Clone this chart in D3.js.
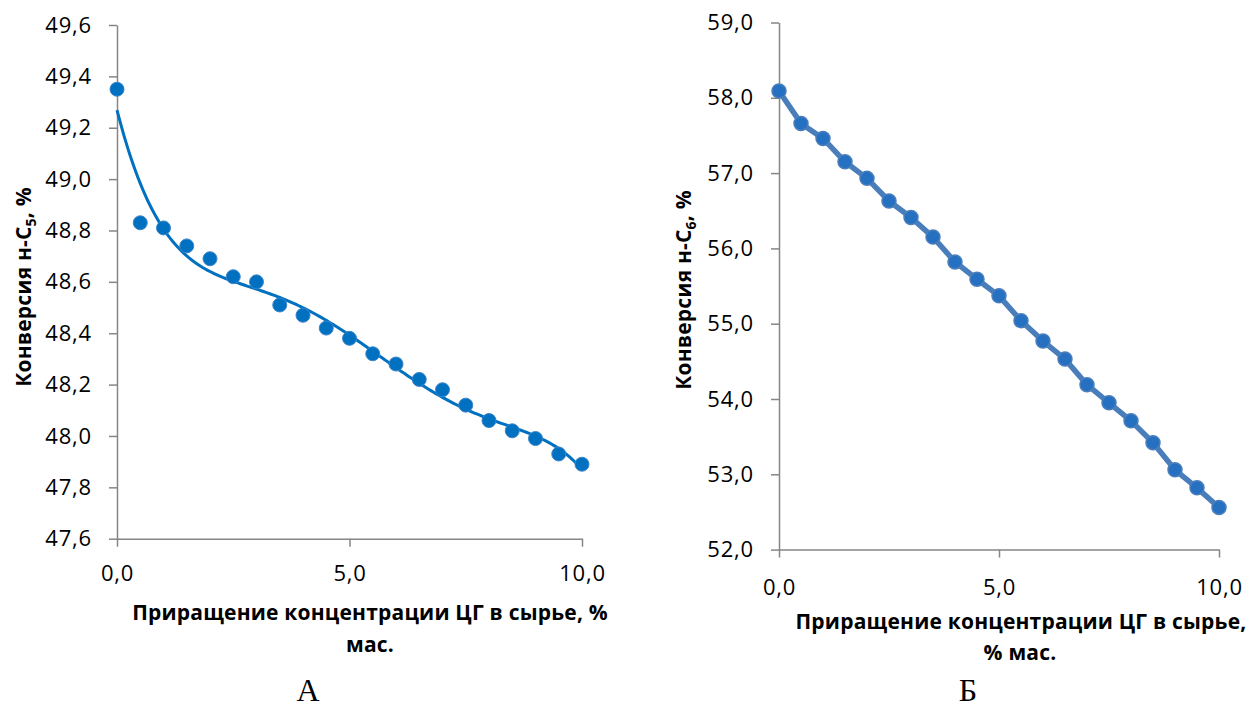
<!DOCTYPE html>
<html>
<head>
<meta charset="utf-8">
<script src="https://cdn.jsdelivr.net/npm/d3@7"></script>
<style>
  body { margin: 0; background: #fff; }
  .tick text { font-family: "Open Sans", sans-serif; font-size: 22px; fill: #000; letter-spacing: 0.8px; }
  .axis path, .axis line { stroke: #868686; stroke-width: 1.5px; }
  .lab { font-family: "Open Sans", sans-serif; font-weight: bold; font-size: 21px; fill: #000; letter-spacing: 0.2px; }
  .cap { font-family: "Liberation Serif", "Times New Roman", serif; font-size: 32px; fill: #000; }
</style>
</head>
<body>
<svg width="1255" height="709"></svg>
<script>
// shared x values: increment of CG concentration, % mass
const xVals = [0, 0.5, 1, 1.5, 2, 2.5, 3, 3.5, 4, 4.5, 5, 5.5, 6, 6.5, 7, 7.5, 8, 8.5, 9, 9.5, 10];
// chart A: conversion n-C5, %
const convC5 = [49.35, 48.83, 48.81, 48.74, 48.69, 48.62, 48.60, 48.51, 48.47, 48.42, 48.38,
                48.32, 48.28, 48.22, 48.18, 48.12, 48.06, 48.02, 47.99, 47.93, 47.89];
// chart B: conversion n-C6, %
const convC6 = [58.09, 57.66, 57.46, 57.15, 56.93, 56.63, 56.41, 56.15, 55.82, 55.59, 55.37,
                55.04, 54.77, 54.53, 54.19, 53.95, 53.71, 53.42, 53.06, 52.82, 52.56];
const xTicks = [0, 5, 10];
const yTicksA = [47.6, 47.8, 48.0, 48.2, 48.4, 48.6, 48.8, 49.0, 49.2, 49.4, 49.6];
const yTicksB = [52, 53, 54, 55, 56, 57, 58, 59];

var svg = d3.select("svg");
var fmt = function(d) { return d3.format(".1f")(d).replace(".", ","); };

// least squares polynomial trendline (like excel's)
function polyfit(xs, ys, deg) {
    var n = deg + 1, A = [], b = [];
    for (var i = 0; i < n; i++) {
        A.push(new Array(n).fill(0)); b.push(0);
    }
    xs.forEach(function(x, k) {
        var t = x / 10;
        for (var i = 0; i < n; i++) {
            for (var j = 0; j < n; j++) A[i][j] += Math.pow(t, i + j);
            b[i] += ys[k] * Math.pow(t, i);
        }
    });
    for (var c = 0; c < n; c++) {
        var p = c;
        for (var r = c + 1; r < n; r++) if (Math.abs(A[r][c]) > Math.abs(A[p][c])) p = r;
        var tmp = A[c]; A[c] = A[p]; A[p] = tmp;
        var tb = b[c]; b[c] = b[p]; b[p] = tb;
        for (var r = c + 1; r < n; r++) {
            var f = A[r][c] / A[c][c];
            for (var j = c; j < n; j++) A[r][j] -= f * A[c][j];
            b[r] -= f * b[c];
        }
    }
    var coef = new Array(n).fill(0);
    for (var i = n - 1; i >= 0; i--) {
        var s = b[i];
        for (var j = i + 1; j < n; j++) s -= A[i][j] * coef[j];
        coef[i] = s / A[i][i];
    }
    return function(x) {
        var t = x / 10, s = 0;
        for (var i = 0; i < n; i++) s += coef[i] * Math.pow(t, i);
        return s;
    };
}

function drawAxes(g, x, y, yTicks, xPad) {
    g.append("g").attr("class", "axis")
        .attr("transform", "translate(0," + y.range()[0] + ")")
        .call(d3.axisBottom(x).tickValues(xTicks).tickSize(8).tickSizeOuter(0).tickPadding(xPad).tickFormat(fmt));
    g.append("g").attr("class", "axis")
        .attr("transform", "translate(" + x.range()[0] + ",0)")
        .call(d3.axisLeft(y).tickValues(yTicks).tickSize(8).tickSizeOuter(0).tickPadding(17).tickFormat(fmt));
    g.selectAll(".domain").attr("stroke", "#868686");
}

function yLabel(g, x, y, sub) {
    var t = g.append("text").attr("class", "lab")
        .attr("transform", "translate(" + x + "," + y + ") rotate(-90)")
        .attr("text-anchor", "middle");
    t.append("tspan").text("Конверсия н-С");
    t.append("tspan").text(sub).attr("font-size", "14px").attr("dy", 5);
    t.append("tspan").text(", %").attr("dy", -5);
}

// ---- chart A ----
var gA = svg.append("g");
var xA = d3.scaleLinear().domain([0, 10]).range([117, 582]);
var yA = d3.scaleLinear().domain([47.6, 49.6]).range([538.7, 25]);
drawAxes(gA, xA, yA, yTicksA, 19);

// excel-style 5th order polynomial trendline
var trend = polyfit(xVals, convC5, 5);
var trendPts = d3.range(0, 10.001, 0.05);
gA.append("path")
    .datum(trendPts)
    .attr("fill", "none")
    .attr("stroke", "#0070c0")
    .attr("stroke-width", 3)
    .attr("d", d3.line().x(function(d) { return xA(d); }).y(function(d) { return yA(trend(d)); }));

gA.selectAll("circle")
    .data(xVals)
    .enter().append("circle")
      .attr("cx", function(d) { return xA(d); })
      .attr("cy", function(d, i) { return yA(convC5[i]); })
      .attr("r", 7)
      .attr("fill", "#0070c0")
      .attr("stroke", "#3d85c8")
      .attr("stroke-width", 1);

gA.append("text").attr("class", "lab").attr("x", 370).attr("y", 620).attr("text-anchor", "middle")
    .text("Приращение концентрации ЦГ в сырье, %");
gA.append("text").attr("class", "lab").attr("x", 370).attr("y", 652).attr("text-anchor", "middle")
    .text("мас.");
yLabel(gA, 31, 287, "5");
gA.append("text").attr("class", "cap").attr("x", 308).attr("y", 701).attr("text-anchor", "middle").text("А");

// ---- chart B ----
var gB = svg.append("g");
var xB = d3.scaleLinear().domain([0, 10]).range([779, 1219]);
var yB = d3.scaleLinear().domain([52, 59]).range([549.6, 22.5]);
drawAxes(gB, xB, yB, yTicksB, 22);

gB.append("path")
    .datum(xVals)
    .attr("fill", "none")
    .attr("stroke", "#4a7ebb")
    .attr("stroke-width", 5.5)
    .attr("stroke-linejoin", "round")
    .attr("d", d3.line().x(function(d) { return xB(d); }).y(function(d, i) { return yB(convC6[i]); }));

gB.selectAll("circle")
    .data(xVals)
    .enter().append("circle")
      .attr("cx", function(d) { return xB(d); })
      .attr("cy", function(d, i) { return yB(convC6[i]); })
      .attr("r", 7)
      .attr("fill", "#2570c0")
      .attr("stroke", "#4a7ebb")
      .attr("stroke-width", 1.5);

gB.append("text").attr("class", "lab").attr("x", 1021).attr("y", 629).attr("text-anchor", "middle")
    .text("Приращение концентрации ЦГ в сырье,");
gB.append("text").attr("class", "lab").attr("x", 1020).attr("y", 660).attr("text-anchor", "middle")
    .text("% мас.");
yLabel(gB, 691, 290, "6");
gB.append("text").attr("class", "cap").attr("x", 968).attr("y", 701).attr("text-anchor", "middle").text("Б");
</script>
</body>
</html>
